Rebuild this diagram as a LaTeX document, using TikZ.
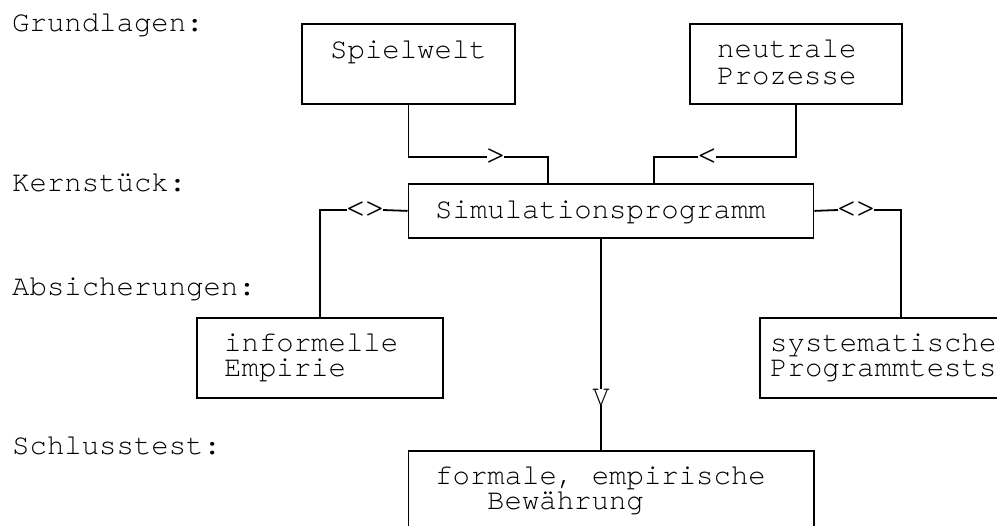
\documentclass[tikz,border=0pt]{standalone}
\usepackage{fontspec}
\setmainfont{TeX Gyre Cursor}
\begin{document}
\begin{tikzpicture}[x=1pt,y=-1pt,
  box/.style={draw, line width=1.8pt, inner sep=0pt, anchor=north west},
  conn/.style={line width=1.8pt},
  txt/.style={anchor=base west, inner sep=0pt, font=\fontsize{29}{29}\selectfont},
  first/.style={text depth=0pt},
  sym/.style={inner sep=0pt, font=\fontsize{29}{29}\selectfont},
  angle/.style={inner ysep=0pt, inner xsep=-3pt, font=\fontsize{38}{38}\selectfont}]
\useasboundingbox (0,0) rectangle (997,526);
\clip (0,0) rectangle (997,526);
% side labels
\node[txt] (l1) at (12,32) {Grundlagen:};
\node[txt] (l2) at (12,192) {Kernstück:};
\node[txt] (l3) at (12,296) {Absicherungen:};
\node[txt] (l4) at (12,455) {Schlusstest:};
% boxes
\node[box, minimum width=213pt, minimum height=80pt] (spiel) at (301,23) {};
\node[box, minimum width=212pt, minimum height=80pt] (neutr) at (689,23) {};
\node[box, minimum width=405pt, minimum height=54pt] (sim) at (407.5,183) {};
\node[box, minimum width=246pt, minimum height=80pt] (info) at (196,317) {};
\node[box, minimum width=260pt, minimum height=80pt] (syst) at (759,317) {};
\node[box, minimum width=405.5pt, minimum height=100pt] (form) at (407.5,450) {};
% texts
\node[txt] (t1) at (330,59) {Spielwelt};
\node[txt, first] (t2) at (717,58) {neutrale};
\node[txt] (t3) at (717,85) {Prozesse};
\node[txt] (t4) at (435,219) {Simulationsprogramm};
\node[txt, first] (t5) at (224,352) {informelle};
\node[txt] (t6) at (224,377) {Empirie};
\node[txt, first] (t7) at (770,352) {systematische};
\node[txt] (t8) at (770,377) {Programmtests};
\node[txt, first] (t9) at (435,485) {formale, empirische};
\node[txt] (t10) at (487,510) {Bewährung};
% connector symbols
\node[angle] (gt) at (495.5,157) {>};
\node[angle] (lt) at (707,157) {<};
\node[angle] (lr1) at (365,210) {<\kern-4pt>};
\node[angle] (lr2) at (856,210) {<\kern-4pt>};
\node[sym] (vv) at (601,397) {V};
% connector end points
\coordinate (simA) at (548,183);
\coordinate (simC) at (654,183);
\coordinate (simB) at (601,237);
\coordinate (systT) at (901,317);
\coordinate (formT) at (601,450);
% connectors
\draw[conn] (spiel.south) |- (gt.west);
\draw[conn] (gt.east) -| (simA);
\draw[conn] (neutr.south) |- (lt.east);
\draw[conn] (lt.west) -| (simC);
\draw[conn] (sim.west) -- (lr1.east);
\draw[conn] (lr1.west) -| (info.north);
\draw[conn] (sim.east) -- (lr2.west);
\draw[conn] (lr2.east) -| (systT);
\draw[conn] (simB) -- (vv.north);
\draw[conn] (vv.south) -- (formT);
\end{tikzpicture}
\end{document}
